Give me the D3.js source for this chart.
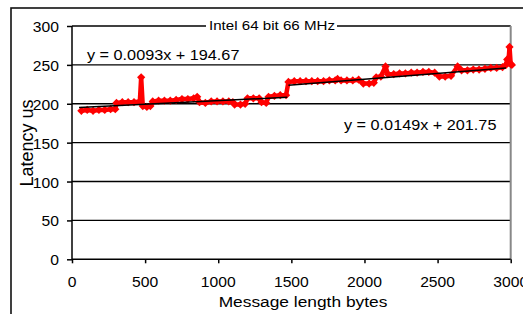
<!DOCTYPE html>
<meta charset="utf-8">
<style>
body { margin: 0; background: #fff; }
text { font-family: "Liberation Sans", Arial, sans-serif; fill: #000; }
</style>
<svg width="523" height="314"></svg>
<script src="https://d3js.org/d3.v7.min.js"></script>
<script>

// message length (bytes) and latency (us)
var lengths = [64, 104, 144, 184, 224, 264, 296,
  304, 344, 384, 424, 464, 473, 484, 512, 536,
  552, 592, 632, 672, 712, 752, 792, 832, 856,
  872, 912, 952, 992, 1032, 1072, 1100,
  1112, 1152, 1184, 1200, 1240, 1280, 1296, 1328,
  1344, 1384, 1424, 1464,
  1480, 1520, 1560, 1600, 1640, 1680, 1720, 1760, 1800, 1816, 1840, 1880, 1920, 1960,
  1992, 2032, 2064, 2080, 2112, 2144, 2160, 2200, 2240, 2280, 2320, 2360, 2400, 2440, 2480,
  2512, 2552, 2592, 2637, 2664, 2704, 2744, 2784, 2824, 2864, 2904, 2944,
  2968, 2976, 2984, 2992, 3000, 3008];
var latency = [191, 192, 191, 192, 192, 193, 193,
  201, 202, 202, 202, 203, 234, 197, 196, 197,
  203, 204, 204, 204, 205, 206, 206, 207, 209,
  202, 201, 203, 203, 203, 203, 202,
  199, 199, 200, 207, 207, 207, 202, 201,
  209, 210, 211, 211,
  228, 229, 229, 229, 229, 229, 229, 230, 230, 232, 230, 230, 230, 231,
  226, 226, 227, 234, 235, 248, 238, 238, 239, 239, 240, 240, 241, 241, 240,
  235, 235, 236, 248, 243, 243, 244, 244, 245, 246, 246, 247,
  250, 257, 253, 273, 251, 250];

// linear trendlines (two halves)
var trendSlopes = [0.0093, 0.0149];
var trendIntercepts = [194.67, 201.75];
var trendFrom = [48, 1480];
var trendTo = [1472, 2968];
var trendLabels = ["y = 0.0093x + 194.67", "y = 0.0149x + 201.75"];

var xTicks = [0, 500, 1000, 1500, 2000, 2500, 3000];
var yTicks = [0, 50, 100, 150, 200, 250, 300];

var svg = d3.select("svg");
var sx = 1.12; // text in the original is a bit wide

var x = d3.scaleLinear().domain([0, 3000]).range([72, 510.7]);
var y = d3.scaleLinear().domain([0, 300]).range([259.3, 26]);

function addText(px, py, str, size, anchor) {
  return svg.append("text")
    .attr("transform", "translate(" + px + "," + py + ") scale(" + sx + ",1)")
    .attr("text-anchor", anchor || "start")
    .style("font-size", size + "px")
    .text(str);
}

// outer chart border
svg.append("rect")
  .attr("x", 11).attr("y", 8)
  .attr("width", 530).attr("height", 330)
  .attr("fill", "none")
  .attr("stroke", "#111")
  .attr("stroke-width", 1.6);

// gridlines
svg.append("g")
  .selectAll("line")
  .data(yTicks.slice(1))
  .enter().append("line")
  .attr("x1", x(0)).attr("x2", x(3000))
  .attr("y1", function(d) { return y(d); })
  .attr("y2", function(d) { return y(d); })
  .attr("stroke", "#000")
  .attr("stroke-width", 1.4);

// plot area right border
svg.append("line")
  .attr("x1", x(3000)).attr("x2", x(3000))
  .attr("y1", y(300)).attr("y2", y(0))
  .attr("stroke", "#888")
  .attr("stroke-width", 2);

// axes
var yAxis = d3.axisLeft(y).tickValues(yTicks).tickSize(5).tickFormat("");
var xAxis = d3.axisBottom(x).tickValues(xTicks).tickSize(4).tickFormat("");
svg.append("g").attr("transform", "translate(" + x(0) + ",0)").call(yAxis);
svg.append("g").attr("transform", "translate(0," + y(0) + ")").call(xAxis);
svg.selectAll(".domain, .tick line").attr("stroke", "#000").attr("stroke-width", 1.5);
svg.selectAll(".domain").attr("d", function() {
  return d3.select(this.parentNode).attr("transform").indexOf("translate(0") === 0
    ? "M" + x(0) + ",0H" + x(3000)
    : "M0," + y(0) + "V" + y(300);
});

yTicks.forEach(function(t) { addText(59, y(t) + 6, t, 14, "end"); });
xTicks.forEach(function(t) { addText(x(t), 287, t, 14, "middle"); });

// trendlines
var trendGroup = svg.append("g");
trendSlopes.forEach(function(m, i) {
  var b = trendIntercepts[i];
  trendGroup.append("line")
    .attr("x1", x(trendFrom[i])).attr("y1", y(m * trendFrom[i] + b))
    .attr("x2", x(trendTo[i])).attr("y2", y(m * trendTo[i] + b))
    .attr("stroke", "#000")
    .attr("stroke-width", 1.5);
});

// data series
var pts = lengths.map(function(d, i) { return [d, latency[i]]; });
var line = d3.line().x(function(d) { return x(d[0]); }).y(function(d) { return y(d[1]); });
svg.append("path")
  .datum(pts)
  .attr("d", line)
  .attr("fill", "none")
  .attr("stroke", "#ff0000")
  .attr("stroke-width", 4.5)
  .attr("stroke-linejoin", "round");

var diamond = d3.symbol().type(d3.symbolSquare).size(34);
svg.append("g")
  .selectAll("path")
  .data(pts)
  .enter().append("path")
  .attr("d", diamond)
  .attr("transform", function(d) { return "translate(" + x(d[0]) + "," + y(d[1]) + ") rotate(45)"; })
  .attr("fill", "#ff0000");

// redraw trendlines above the markers
svg.node().appendChild(trendGroup.node());

// title with a white box over the top gridline
svg.append("rect")
  .attr("x", 206).attr("y", 18)
  .attr("width", 131).attr("height", 16)
  .attr("fill", "#fff");
addText(272, 30, "Intel 64 bit 66 MHz", 13.5, "middle");

// trendline equations
addText(87, 60, trendLabels[0], 14.5, "start");
addText(344, 130, trendLabels[1], 14.5, "start");

// axis titles
addText(303, 307, "Message length bytes", 15.5, "middle");
svg.append("text")
  .attr("transform", "translate(33,143) rotate(-90)")
  .attr("text-anchor", "middle")
  .style("font-size", "18px")
  .text("Latency us");

</script>
